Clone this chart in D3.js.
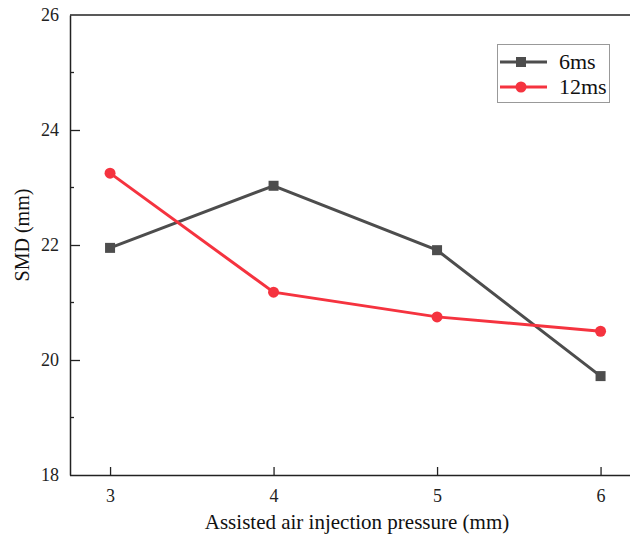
<!DOCTYPE html>
<html><head><meta charset="utf-8">
<script src="https://cdn.jsdelivr.net/npm/d3@7"></script>
<style>body{margin:0;background:#fff;} svg{display:block;}</style>
</head><body>
<svg id="c" width="630" height="536"></svg>
<script>
const xValues = [3, 4, 5, 6];
const series6ms = [21.95, 23.03, 21.91, 19.72];
const series12ms = [23.25, 21.18, 20.75, 20.50];
const yMajorTicks = [18, 20, 22, 24, 26];
const yMinorTicks = [19, 21, 23, 25];
const seriesNames = ["6ms", "12ms"];

(function () {
const svg = d3.select("#c");
const padLeft = 70, padTop = 15, padBottom = 475;
const x = d3.scaleLinear().domain([2.755, 6.255]).range([padLeft, padLeft + 3.5 * 163.5]);
const y = d3.scaleLinear().domain([18, 26]).range([padBottom, padTop]);
const font = "'Liberation Serif', 'Times New Roman', serif";

// top frame line
svg.append("line").attr("x1", padLeft).attr("x2", 630).attr("y1", padTop).attr("y2", padTop)
  .attr("stroke", "#222").attr("stroke-width", 1.5);

// x axis
const xAxis = svg.append("g").attr("transform", `translate(0,${padBottom})`)
  .call(d3.axisBottom(x).tickValues(xValues).tickSizeInner(-8).tickSizeOuter(0).tickPadding(14).tickFormat(d3.format("d")));
xAxis.select(".domain").attr("stroke", "#222").attr("stroke-width", 1.5).attr("d", `M${padLeft},0.5H630`);
xAxis.selectAll(".tick line").attr("stroke", "#222").attr("stroke-width", 1.3);
xAxis.selectAll("text").attr("font-family", font).attr("font-size", 18).attr("fill", "#222");

// y axis
const yAxis = svg.append("g").attr("transform", `translate(${padLeft},0)`)
  .call(d3.axisLeft(y).tickValues(yMajorTicks).tickSizeInner(-10).tickSizeOuter(0).tickPadding(11).tickFormat(d3.format("d")));
yAxis.select(".domain").attr("stroke", "#222").attr("stroke-width", 1.5);
yAxis.selectAll(".tick line").attr("stroke", "#222").attr("stroke-width", 1.3);
yAxis.selectAll("text").attr("font-family", font).attr("font-size", 18).attr("fill", "#222");
yAxis.selectAll(".tick").filter(d => d === 18 || d === 26).select("line").remove();

svg.append("g").selectAll("line").data(yMinorTicks).join("line")
  .attr("x1", padLeft).attr("x2", padLeft + 4).attr("y1", d => y(d)).attr("y2", d => y(d))
  .attr("stroke", "#222").attr("stroke-width", 1.3);

// axis titles
svg.append("text").attr("x", 357).attr("y", 529).attr("text-anchor", "middle")
  .attr("font-family", font).attr("font-size", 21).attr("fill", "#111")
  .text("Assisted air injection pressure (mm)");
svg.append("text").attr("transform", "translate(29,235) rotate(-90)").attr("text-anchor", "middle")
  .attr("font-family", font).attr("font-size", 20).attr("fill", "#111")
  .text("SMD (mm)");

const grey = "#4d4d4d", red = "#f5333f";
const line = d3.line().x((d, i) => x(xValues[i])).y(d => y(d));

svg.append("path").datum(series6ms).attr("d", line).attr("fill", "none").attr("stroke", grey).attr("stroke-width", 3);
svg.append("g").selectAll("rect").data(series6ms).join("rect")
  .attr("x", (d, i) => x(xValues[i]) - 5).attr("y", d => y(d) - 5).attr("width", 10).attr("height", 10).attr("fill", grey);

svg.append("path").datum(series12ms).attr("d", line).attr("fill", "none").attr("stroke", red).attr("stroke-width", 3);
svg.append("g").selectAll("circle").data(series12ms).join("circle")
  .attr("cx", (d, i) => x(xValues[i])).attr("cy", d => y(d)).attr("r", 5.5).attr("fill", red);

// legend
const lg = svg.append("g");
lg.append("rect").attr("x", 497.5).attr("y", 44.5).attr("width", 112).attr("height", 58)
  .attr("fill", "#fff").attr("stroke", "#999").attr("stroke-width", 1);
const colors = [grey, red];
seriesNames.forEach((name, i) => {
  const cy = 62 + i * 25;
  lg.append("line").attr("x1", 500).attr("x2", 547).attr("y1", cy).attr("y2", cy).attr("stroke", colors[i]).attr("stroke-width", 3);
  if (i === 0) lg.append("rect").attr("x", 516).attr("y", cy - 5).attr("width", 10).attr("height", 10).attr("fill", grey);
  else lg.append("circle").attr("cx", 521).attr("cy", cy).attr("r", 5.5).attr("fill", red);
  lg.append("text").attr("x", 559).attr("y", cy + 7).attr("font-family", font).attr("font-size", 22).attr("fill", "#111").text(name);
});
})();
</script>
</body></html>
